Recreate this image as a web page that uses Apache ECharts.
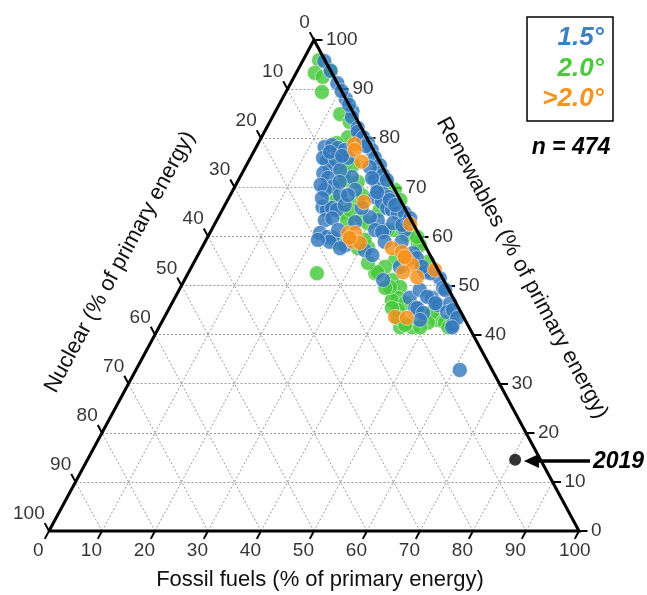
<!DOCTYPE html>
<html>
<head>
<meta charset="UTF-8">
<title>Primary energy mix</title>
<script src="https://cdn.jsdelivr.net/npm/echarts@6/dist/echarts.min.js"></script>
<style>
  body { margin: 0; background: #fff; }
  #chart { width: 647px; height: 595px; }
</style>
</head>
<body>
<div id="chart"></div>
<script>
// scenario points: [nuclear %, renewables %] ; fossil share is the remainder
var scen15 = [
  [0.2,95.7],[0,93.7],[0,91.2],[0,88.0],[0,85.5],[0.7,84.3],[0.7,82.1],[1.0,80.7],[1.1,81.3],[0.6,80.2],
  [0.3,79.0],[0.3,77.6],[0.5,76.0],[0.3,74.5],[1.7,72.9],[2.8,71.5],[2.9,70.1],[2.6,68.8],[2.0,68.0],[4.5,68.0],
  [3.7,67.0],[3.3,65.8],[2.6,65.4],[1.8,64.8],[0.5,64.8],[2.2,61.3],[6.0,61.3],[6.3,63.3],[7.5,63.9],[10.8,62.9],
  [7.8,61.3],[6.7,60.9],[3.7,62.7],[2.2,62.3],
  [8.9,78.2],[7.3,78.6],[6.5,78.0],[5.4,77.6],[5.6,76.0],[10.0,75.2],[9.9,74.1],[11.8,72.9],[11.4,71.9],[6.8,72.1],
  [11.4,70.1],[7.5,69.5],[15.4,66.0],[14.9,65.4],[13.7,65.8],[13.0,65.4],[16.3,63.3],[14.7,63.7],[18.5,60.7],[17.6,59.9],
  [16.6,59.7],[17.6,58.9],[15.0,58.2],[11.8,57.2],[10.9,56.2],[19.6,59.3],[10.3,76.0],[8.1,75.6],[8.3,73.5],[13.2,69.5],
  [10.9,68.4],[11.0,66.4],[13.6,59.3],[16.3,57.6],[8.4,77.2],[6.5,76.4],[13.5,70.5],[14.6,67.8],[9.6,71.1],[9.4,68.4],
  [14.8,61.3],[8.1,65.8],
  [0,89.6],[0,86.8],[1.0,78.4],[0.7,72.5],[0.5,71.5],[2.0,67.4],[1.5,66.4],[0,63.7],
  [11.4,51.1],[6.9,53.8],[8.2,47.5],[8.2,45.4],[7.2,58.9],[4.0,58.9],[3.0,56.6],[2.8,55.6],[2.7,52.7],[0.5,51.5],
  [5.5,49.1],[7.8,45.4],[7.2,44.4],[8.5,43.0],[4.0,47.5],[3.6,46.0],[0.9,49.5],[1.1,46.4],[2.6,44.6],[2.8,42.0],
  [6.1,32.8],[1.7,52.5],[0.7,49.1],[1.3,45.0],[1.3,43.4],[3.2,41.5],[4.8,47.7],[3.9,46.4],[2.7,53.8],[2.4,74.1],
  [3.1,71.9],[3.6,69.0]
];
var scen20 = [
  [1.1,95.9],[3.2,93.3],[2.1,92.5],[0,93.9],[3.8,89.4],[2.6,84.9],[1.6,83.3],[3.5,80.2],
  [6.2,79.0],[7.5,75.2],[7.9,73.1],[8.4,71.5],[6.2,71.1],[12.4,68.4],[12.0,67.4],[8.0,67.4],[12.3,64.8],[12.1,63.3],
  [9.1,63.7],[8.5,62.7],[0,69.5],[0,67.4],[4.1,61.3],[16.2,58.7],[12.9,57.6],[10.9,57.8],[23.2,52.5],[12.2,52.5],
  [9.7,51.1],[10.5,49.1],[8.9,49.7],[10.4,47.5],[11.8,47.0],[9.6,46.4],[11.6,45.0],[5.4,61.3],[1.1,58.7],[7.1,55.2],
  [9.7,53.8],[2.7,53.8],[0.9,58.2],[11.7,52.7],[10.8,49.7],[12.6,45.4],[13.0,41.5],[10.7,41.5],[2.0,43.6],[5.3,43.0],
  [4.1,42.4],[5.4,44.6],[7.3,42.4],[10.8,59.3],[10.5,65.4],[5.4,74.5],[6.7,68.4],[4.9,65.4],[6.8,77.2],[0.8,70.9],
  [2.3,60.3],[0.6,59.9],[1.1,54.8],[12.5,54.6],[12.5,43.4],[11.8,42.0],[9.2,41.5],[3.9,41.5],[11.8,49.5]
];
var scenAbove = [
  [3.0,78.8],[3.5,77.6],[3.4,75.2],[7.1,67.0],[0.6,62.5],[13.2,60.7],[11.9,60.7],[13.2,58.9],[12.0,58.7],[13.4,59.7],
  [6.5,57.6],[5.0,56.8],[4.8,55.2],[4.4,54.2],[6.8,52.7],[4.7,51.7],[0.6,53.2],[12.9,43.6],[10.8,43.4],[5.0,55.8]
];
var point2019 = [4.8, 14.5];
var tickValues = [0, 10, 20, 30, 40, 50, 60, 70, 80, 90, 100];

// ternary (fossil, renewables) -> cartesian x/y of the plot
function pos(f, r) { return [f + r / 2, r]; }
function fromNR(p) { return pos(100 - p[0] - p[1], p[1]); }

var gridLines = [], ticks = [], bottomLabels = [], rightLabels = [], leftLabels = [];
var tl = 1.6;
tickValues.forEach(function (k) {
  if (k > 0 && k < 100) {
    gridLines.push({ coords: [pos(0, k), pos(100 - k, k)] });
    gridLines.push({ coords: [pos(k, 0), pos(k, 100 - k)] });
    gridLines.push({ coords: [pos(100 - k, 0), pos(0, 100 - k)] });
  }
  var b = pos(k, 0);
  ticks.push({ coords: [b, [b[0] - tl / 2, -tl]] });
  bottomLabels.push({ value: [b[0] - 2 + (k === 100 ? 1.2 : 0), -4], name: String(k) });
  var rt = pos(100 - k, k);
  ticks.push({ coords: [rt, [rt[0] + tl, rt[1]]] });
  rightLabels.push({ value: [rt[0] + tl, rt[1]], name: String(k) });
  var lf = pos(0, 100 - k);
  ticks.push({ coords: [lf, [lf[0] - tl / 2, lf[1] + tl]] });
  leftLabels.push({ value: [lf[0] - 1.75, lf[1] + 3.5], name: String(k) });
});

var tickFont = { fontFamily: 'Liberation Sans', fontSize: 19, color: '#000' };

function labelSeries(data, label) {
  return {
    type: 'scatter', data: data, symbolSize: 1, clip: false, silent: true,
    itemStyle: { color: 'transparent' },
    label: Object.assign({ show: true, formatter: '{b}' }, tickFont, label)
  };
}

function pointSeries(data, color) {
  return {
    type: 'scatter', data: data.map(fromNR), symbolSize: 15, clip: false,
    itemStyle: { color: color, opacity: 0.82, borderColor: 'rgba(255,255,255,0.6)', borderWidth: 1 }
  };
}

var chart = echarts.init(document.getElementById('chart'));
var rot = Math.atan2(491, 265);
var titleFont = '22px "Liberation Sans"';
var tagFont = 'italic bold 26px "Liberation Sans"';

chart.setOption({
  animation: false,
  grid: { left: 49, right: 68, top: 40, bottom: 64 },
  xAxis: { type: 'value', min: 0, max: 100, show: false },
  yAxis: { type: 'value', min: 0, max: 100, show: false },
  series: [
    {
      type: 'lines', coordinateSystem: 'cartesian2d', data: gridLines, silent: true,
      lineStyle: { color: '#9a9a9a', width: 1, type: [2, 2], opacity: 1 }
    },
    {
      type: 'lines', coordinateSystem: 'cartesian2d', data: ticks, silent: true, clip: false,
      lineStyle: { color: '#000', width: 2, opacity: 1 }
    },
    {
      type: 'line', data: [pos(0, 0), pos(100, 0), pos(0, 100), pos(0, 0)], symbol: 'none',
      clip: false, silent: true, lineStyle: { color: '#000', width: 3, join: 'miter' }
    },
    labelSeries(bottomLabels, { position: 'inside' }),
    labelSeries(rightLabels, { position: 'right', distance: 3 }),
    labelSeries(leftLabels, { position: 'inside', align: 'right', offset: [5, 0] }),
    pointSeries(scen20, '#47c83c'),
    pointSeries(scen15, '#3479bd'),
    pointSeries(scenAbove, '#f7901a'),
    {
      type: 'scatter', data: [fromNR(point2019)], symbolSize: 12, clip: false,
      itemStyle: { color: '#000' }
    }
  ],
  graphic: [
    { type: 'text', x: 320, y: 580, style: { text: 'Fossil fuels (% of primary energy)', font: titleFont, fill: '#111', textAlign: 'center', textVerticalAlign: 'middle' } },
    { type: 'text', x: 120, y: 262, rotation: rot, style: { text: 'Nuclear (% of primary energy)', font: titleFont, fill: '#111', textAlign: 'center', textVerticalAlign: 'middle' } },
    { type: 'text', x: 522, y: 268, rotation: -rot, style: { text: 'Renewables (% of primary energy)', font: titleFont, fill: '#111', textAlign: 'center', textVerticalAlign: 'middle' } },
    { type: 'rect', shape: { x: 527, y: 17, width: 86, height: 104 }, style: { fill: 'none', stroke: '#000', lineWidth: 1.5 } },
    { type: 'text', x: 604, y: 38, style: { text: '1.5°', font: tagFont, fill: '#3f80c0', textAlign: 'right', textVerticalAlign: 'middle' } },
    { type: 'text', x: 604, y: 69, style: { text: '2.0°', font: tagFont, fill: '#4cc93c', textAlign: 'right', textVerticalAlign: 'middle' } },
    { type: 'text', x: 604, y: 99, style: { text: '>2.0°', font: tagFont, fill: '#f7931e', textAlign: 'right', textVerticalAlign: 'middle' } },
    { type: 'text', x: 571, y: 148, style: { text: 'n = 474', font: 'italic bold 23px "Liberation Sans"', fill: '#000', textAlign: 'center', textVerticalAlign: 'middle' } },
    { type: 'line', shape: { x1: 590, y1: 461, x2: 534, y2: 461 }, style: { stroke: '#000', lineWidth: 3.5 } },
    { type: 'polygon', shape: { points: [[524, 461], [539, 454], [539, 468]] }, style: { fill: '#000' } },
    { type: 'text', x: 593, y: 462, style: { text: '2019', font: 'italic bold 23px "Liberation Sans"', fill: '#000', textAlign: 'left', textVerticalAlign: 'middle' } }
  ]
});
</script>
</body>
</html>
